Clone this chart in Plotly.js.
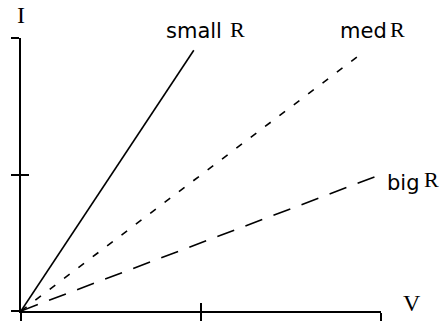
<!DOCTYPE html>
<html>
<head>
<meta charset="utf-8">
<script src="https://cdn.plot.ly/plotly-3.0.1.min.js"></script>
<style>
  html, body { margin: 0; padding: 0; background: #fff; }
  #chart { width: 443px; height: 322px; }
</style>
</head>
<body>
<div id="chart"></div>
<script>
// I-V lines for three resistors (V on x, I on y), start at origin
const smallR = { v: [0, 0.96], i: [0, 1.91] };
const medR = { v: [0, 1.906], i: [0, 1.9] };
const bigR = { v: [0, 2.0], i: [0, 1.0] };

const tickVals = [0, 1, 2];
const innerTicks = [1, 2];

const sans = { family: "DejaVu Sans", size: 21, color: "black" };
const serif = { family: "Liberation Serif", size: 22, color: "black" };
const serifBig = { family: "Liberation Serif", size: 24, color: "black" };

const traces = [
  {
    x: smallR.v,
    y: smallR.i,
    type: "scatter",
    mode: "lines",
    line: { color: "black", width: 1.6 },
  },
  {
    x: medR.v,
    y: medR.i,
    type: "scatter",
    mode: "lines",
    line: { color: "black", width: 1.6, dash: "7px,11px" },
  },
  {
    x: bigR.v,
    y: bigR.i,
    xaxis: "x2",
    yaxis: "y2",
    type: "scatter",
    mode: "lines",
    line: { color: "black", width: 1.6, dash: "18px,12px" },
  },
];

const axisBase = {
  range: [0, 2],
  showgrid: false,
  zeroline: false,
  showticklabels: false,
  tickwidth: 2,
  ticklen: 8,
  tickcolor: "black",
  tickmode: "array",
  fixedrange: true,
};

// labels sit outside the axis ranges, so they use domain refs
const label = (text, x, y, font, xanchor) => ({
  text, x, y, font, xanchor: xanchor || "center", yanchor: "middle",
  xref: "x domain", yref: "y domain", showarrow: false,
});

const layout = {
  width: 443,
  height: 322,
  margin: { l: 21, r: 62, t: 38, b: 11 },
  paper_bgcolor: "white",
  plot_bgcolor: "white",
  showlegend: false,
  font: sans,
  xaxis: {
    ...axisBase,
    showline: true,
    linewidth: 2,
    linecolor: "black",
    ticks: "outside",
    tickvals: tickVals,
  },
  yaxis: {
    ...axisBase,
    showline: true,
    linewidth: 2,
    linecolor: "black",
    ticks: "outside",
    tickvals: tickVals,
  },
  xaxis2: {
    ...axisBase,
    overlaying: "x",
    anchor: "y",
    ticks: "inside",
    tickvals: innerTicks,
  },
  yaxis2: {
    ...axisBase,
    overlaying: "y",
    anchor: "x",
    ticks: "inside",
    tickvals: innerTicks,
  },
  annotations: [
    label("small", 0.564, 1.026, sans, "right"),
    label("R", 0.575, 1.03, serif, "left"),
    label("med", 1.022, 1.026, sans, "right"),
    label("R", 1.02, 1.03, serif, "left"),
    label("big", 1.011, 0.47, sans, "left"),
    label("R", 1.115, 0.48, serif, "left"),
    label("I", 0, 1.084, serifBig),
    label("V", 1.086, 0.029, serifBig),
  ],
};

Plotly.newPlot("chart", traces, layout, { displayModeBar: false });
</script>
</body>
</html>
